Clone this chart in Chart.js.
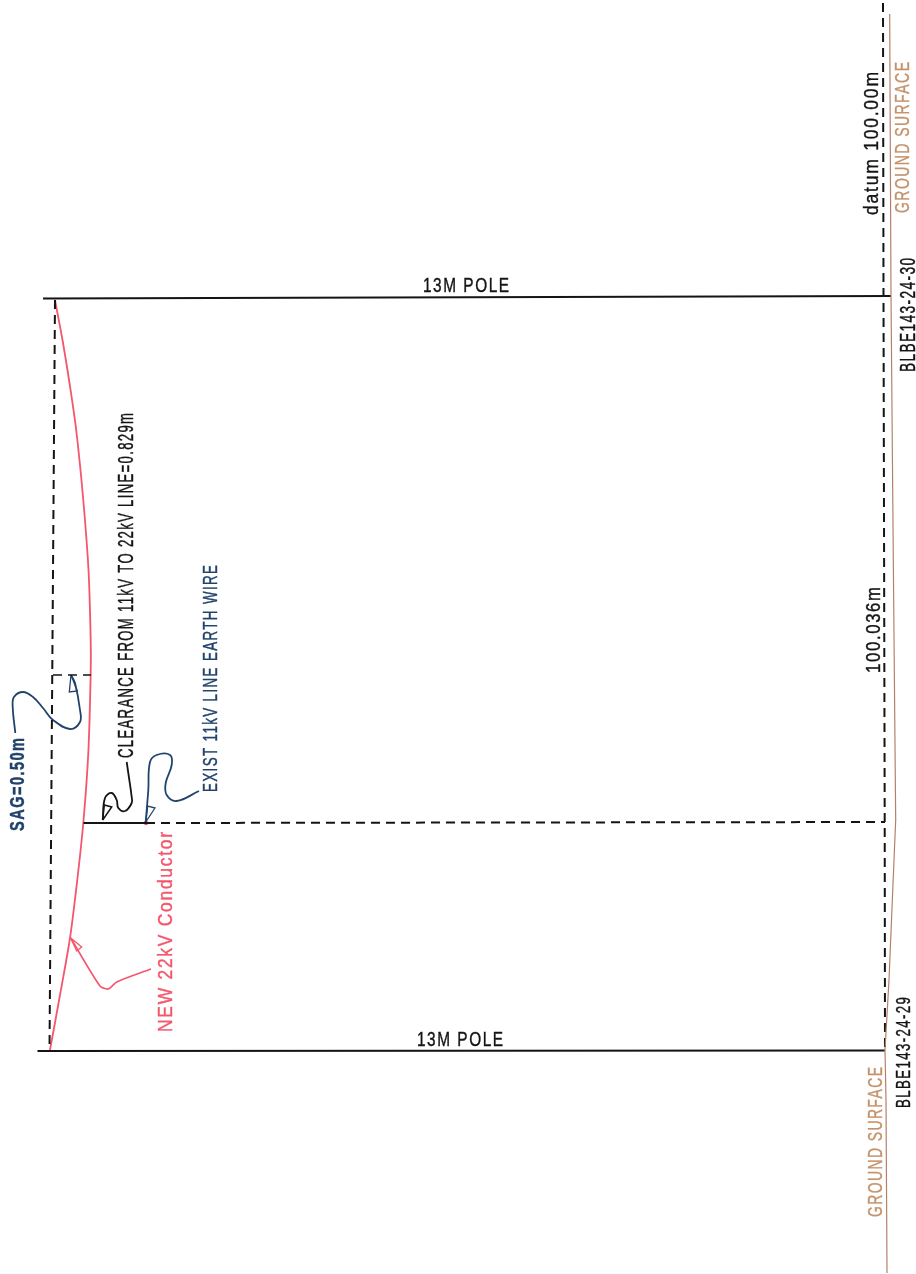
<!DOCTYPE html>
<html>
<head>
<meta charset="utf-8">
<title>Clearance profile</title>
<script src="https://cdn.jsdelivr.net/npm/chart.js@4"></script>
<style>
  html, body { margin: 0; padding: 0; background: #fff; }
  canvas { display: block; }
</style>
</head>
<body>
<canvas id="profile" width="916" height="1274"></canvas>
<script>
const poleTop = [[43, 298.5], [891, 296]];
const poleBottom = [[37.5, 1051], [885, 1050.5]];
const chordLine = [[55, 300], [49.5, 1050]];
const datumLine = [[883, 3], [883.5, 296], [884.7, 822], [885, 1050]];
const sagLine = [[53, 675], [91, 675]];
const clearanceSolid = [[83.5, 823], [146, 823]];
const crossingLine = [[146, 823], [885, 822]];
const groundSurface = [[889.7, 14], [891, 295], [893.3, 560], [895.7, 820], [894, 860], [889, 980], [885, 1050], [886, 1100], [887, 1273]];
const conductor = [[55, 300], [62.5, 340], [69.5, 383], [76.2, 430], [83, 497], [88.5, 570], [90.7, 640], [90.7, 673], [88.3, 753], [83.3, 823], [77.5, 878], [70, 938], [60, 995], [50, 1050]];
const crossingPoint = [[146, 823]];

const sagLeader = [[15.3, 733], [12.7, 707], [14, 697], [23, 692], [33, 697], [43, 708], [53, 720], [70, 729], [80, 722], [80, 710], [75, 683], [71, 675]];
const sagArrow = [[71, 675], [69.3, 692], [77.3, 691], [71, 675]];
const clearanceLeader = [[126.7, 762], [128.3, 773], [131.7, 797], [131.7, 803], [125, 811], [118.3, 808], [116.7, 800], [111.7, 793], [105, 798], [102.7, 820]];
const clearanceArrow = [[102.7, 820], [104.3, 805], [111.7, 807], [102.7, 820]];
const earthLeader = [[199, 791], [176.7, 801], [166.7, 795], [165.7, 783], [171.7, 765], [170, 755], [156.7, 755], [150, 762], [148.3, 790], [145.7, 822]];
const earthArrow = [[145.7, 822], [147.7, 806], [155, 808], [145.7, 822]];
const conductorLeader = [[151, 969], [116.7, 982], [108.3, 989], [100, 986], [70.7, 938]];
const conductorArrow = [[70.7, 938], [81.7, 947], [76.7, 951], [70.7, 938]];

const BLACK = '#141414';
const NAVY = '#21436b';
const RED = '#f4566c';
const TAN = '#c4936b';
const BROWN = '#b5806a';

const pts = arr => arr.map(p => ({ x: p[0], y: p[1] }));

function line(name, arr, color, width, extra) {
  return Object.assign({
    label: name, data: pts(arr), borderColor: color, borderWidth: width,
    pointRadius: 0, showLine: true, fill: false, tension: 0, clip: false
  }, extra || {});
}

const dash = { borderDash: [9, 6] };
const soft = { tension: 0.4 };

// Sheet text: [text, baseline x, start y, length, letter height, colour, rotated, bold]
const notes = [
  ['13M POLE', 423, 292, 86, 14.5, BLACK, false],
  ['13M POLE', 417, 1046, 86, 14.5, BLACK, false],
  ['datum 100.00m', 878, 215, 143, 15, BLACK, true],
  ['GROUND SURFACE', 909, 213, 151, 14, TAN, true],
  ['BLBE143-24-30', 914.5, 372, 114, 15.5, BLACK, true],
  ['100.036m', 880, 673, 86, 15, BLACK, true],
  ['BLBE143-24-29', 910, 1108, 111, 15, BLACK, true],
  ['GROUND SURFACE', 882, 1217, 150, 14, TAN, true],
  ['SAG=0.50m', 24, 831, 93, 15, NAVY, true, true],
  ['CLEARANCE FROM 11kV TO 22kV LINE=0.829m', 133, 758, 345, 16, BLACK, true],
  ['EXIST 11kV LINE EARTH WIRE', 217, 792, 227, 15, NAVY, true],
  ['NEW 22kV Conductor', 172, 1032, 200, 15, RED, true]
];

const sheetText = {
  id: 'sheetText',
  afterDatasetsDraw(chart) {
    const { ctx, scales: { x, y } } = chart;
    notes.forEach(n => {
      ctx.save();
      ctx.font = (n[7] ? 'bold ' : '') + '20px "Liberation Sans"';
      ctx.letterSpacing = '2px';
      ctx.fillStyle = n[5];
      ctx.strokeStyle = n[5];
      ctx.lineWidth = 0.4;
      ctx.textBaseline = 'alphabetic';
      ctx.translate(x.getPixelForValue(n[1]), y.getPixelForValue(n[2]));
      if (n[6]) ctx.rotate(-Math.PI / 2);
      ctx.scale(n[3] / (ctx.measureText(n[0]).width - 2), n[4] / 14.3);
      ctx.fillText(n[0], 0, 0);
      ctx.strokeText(n[0], 0, 0);
      ctx.restore();
    });
  }
};

new Chart(document.getElementById('profile'), {
  type: 'scatter',
  data: {
    datasets: [
      line('Ground surface', groundSurface, BROWN, 1.2),
      line('Chord', chordLine, BLACK, 2, dash),
      line('Datum', datumLine, BLACK, 2, dash),
      line('Sag', sagLine, BLACK, 1.6, dash),
      line('Crossing', crossingLine, BLACK, 2, dash),
      line('Clearance', clearanceSolid, BLACK, 2.2),
      line('Pole 13M top', poleTop, BLACK, 1.9),
      line('Pole 13M bottom', poleBottom, BLACK, 1.9),
      line('Conductor', conductor, RED, 1.8, { tension: 0.3 }),
      line('Sag leader', sagLeader, NAVY, 1.8, soft),
      line('Sag arrow', sagArrow, NAVY, 1.3),
      line('Clearance leader', clearanceLeader, BLACK, 1.8, soft),
      line('Clearance arrow', clearanceArrow, BLACK, 1.5),
      line('Earth leader', earthLeader, NAVY, 1.8, soft),
      line('Earth arrow', earthArrow, NAVY, 1.3),
      line('Conductor leader', conductorLeader, RED, 1.6, { tension: 0.25 }),
      line('Conductor arrow', conductorArrow, RED, 1.3),
      { label: 'Earth wire', data: pts(crossingPoint), pointRadius: 2.2, pointBackgroundColor: RED, pointBorderWidth: 0, showLine: false }
    ]
  },
  options: {
    responsive: false,
    animation: false,
    layout: { padding: 0, autoPadding: false },
    plugins: { legend: { display: false }, tooltip: { enabled: false } },
    scales: {
      x: { type: 'linear', min: 0, max: 916, display: false },
      y: { type: 'linear', min: 0, max: 1274, reverse: true, display: false }
    }
  },
  plugins: [sheetText]
});
</script>
</body>
</html>
